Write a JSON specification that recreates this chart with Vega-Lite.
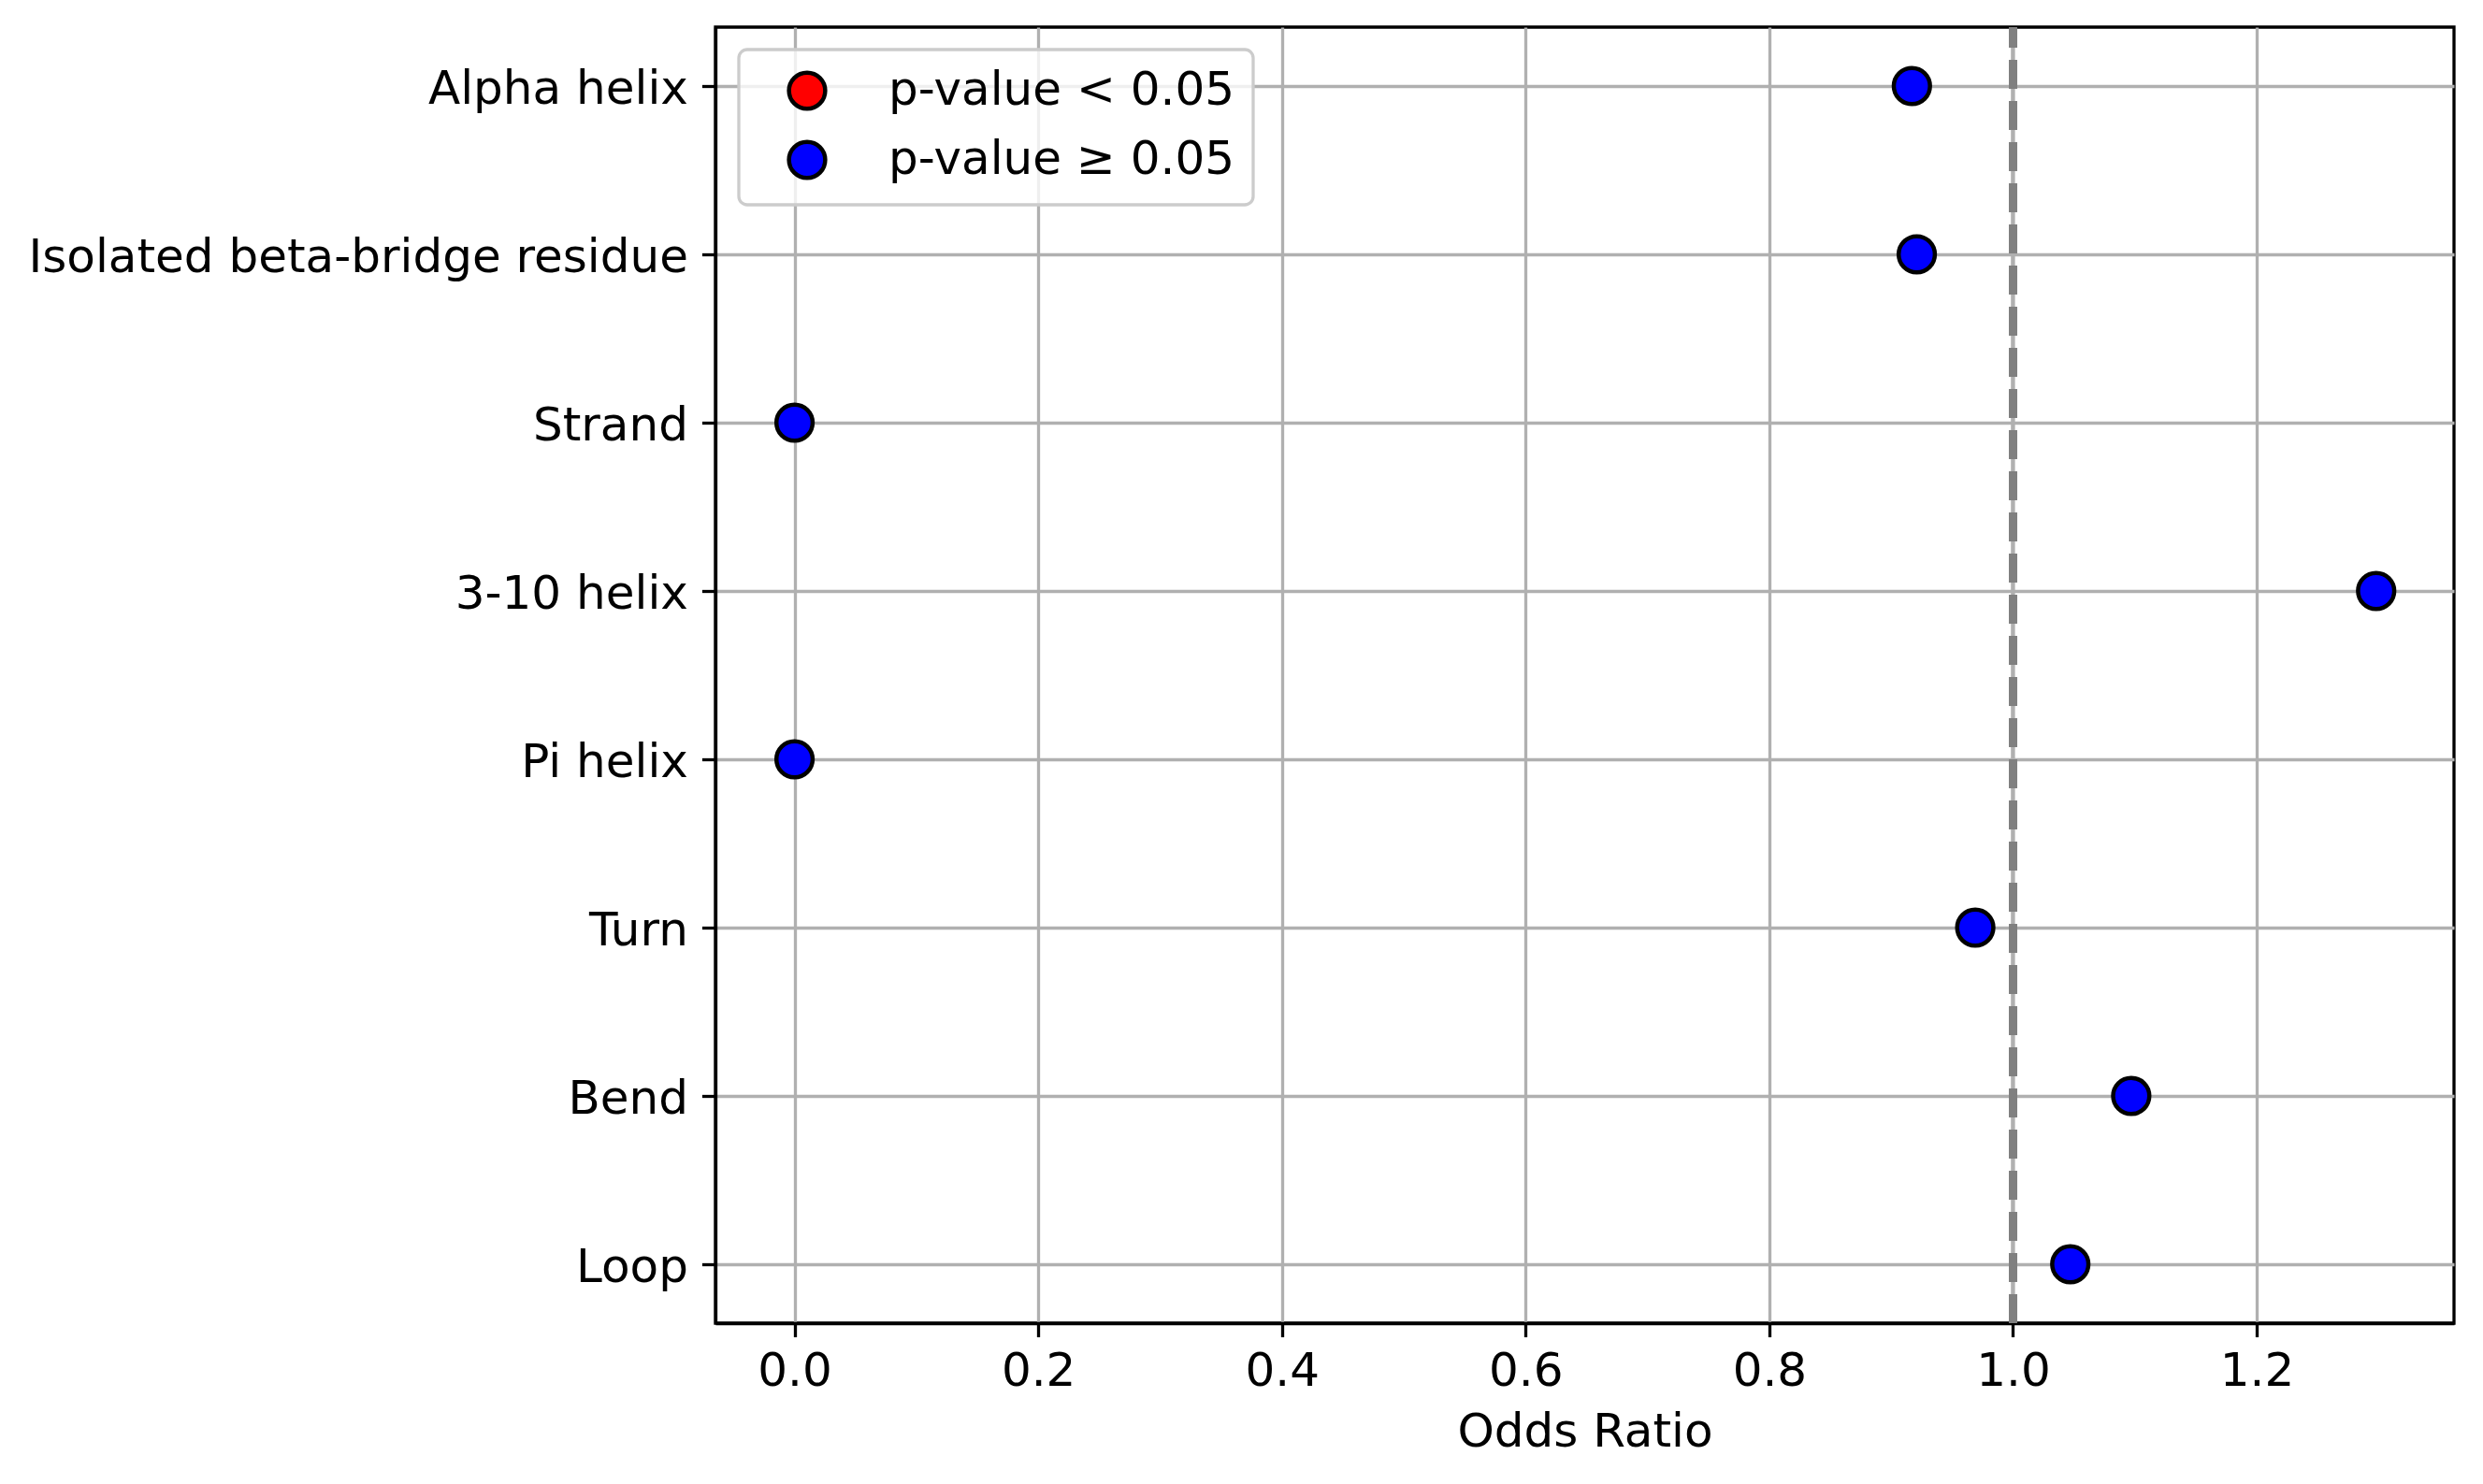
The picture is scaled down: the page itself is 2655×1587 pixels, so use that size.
{
  "$schema": "https://vega.github.io/schema/vega-lite/v6.json",
  "width": 1859,
  "height": 1386,
  "autosize": "none",
  "padding": {"left": 765, "top": 29, "right": 31, "bottom": 172},
  "background": "white",
  "config": {
    "font": "DejaVu Sans",
    "view": {"stroke": "black", "strokeWidth": 3.3},
    "axis": {
      "labelFont": "DejaVu Sans",
      "labelFontSize": 50,
      "labelColor": "black",
      "labelLimit": 0,
      "titleFont": "DejaVu Sans",
      "titleFontSize": 50,
      "titleFontWeight": "normal",
      "titleColor": "black",
      "tickColor": "black",
      "tickWidth": 3.3,
      "tickSize": 14.6,
      "domainColor": "black",
      "domainWidth": 3.3,
      "grid": true,
      "gridColor": "#b0b0b0",
      "gridWidth": 3.3,
      "gridOpacity": 1,
      "zindex": 1
    },
    "legend": {
      "orient": "none",
      "legendX": 25,
      "legendY": 24,
      "fillColor": "rgba(255,255,255,0.8)",
      "strokeColor": "#cccccc",
      "strokeWidth": 3.3,
      "cornerRadius": 9,
      "padding": 19,
      "labelFont": "DejaVu Sans",
      "labelFontSize": 50,
      "labelColor": "black",
      "labelLimit": 0,
      "labelOffset": 62,
      "symbolOffset": 29,
      "symbolType": "circle",
      "symbolSize": 1500,
      "symbolStrokeColor": "black",
      "symbolStrokeWidth": 4.5,
      "symbolOpacity": 1,
      "rowPadding": 16
    }
  },
  "data": {
    "values": [
      {"structure": "Alpha helix", "odds_ratio": 0.917, "significance": "p-value ≥ 0.05"},
      {"structure": "Isolated beta-bridge residue", "odds_ratio": 0.921, "significance": "p-value ≥ 0.05"},
      {"structure": "Strand", "odds_ratio": 0.0, "significance": "p-value ≥ 0.05"},
      {"structure": "3-10 helix", "odds_ratio": 1.298, "significance": "p-value ≥ 0.05"},
      {"structure": "Pi helix", "odds_ratio": 0.0, "significance": "p-value ≥ 0.05"},
      {"structure": "Turn", "odds_ratio": 0.969, "significance": "p-value ≥ 0.05"},
      {"structure": "Bend", "odds_ratio": 1.097, "significance": "p-value ≥ 0.05"},
      {"structure": "Loop", "odds_ratio": 1.047, "significance": "p-value ≥ 0.05"}
    ]
  },
  "encoding": {
    "x": {
      "field": "odds_ratio",
      "type": "quantitative",
      "title": "Odds Ratio",
      "scale": {"domain": [-0.0649, 1.3619], "nice": false, "zero": false},
      "axis": {
        "values": [0, 0.2, 0.4, 0.6, 0.8, 1.0, 1.2],
        "format": ".1f",
        "labelPadding": 12,
        "titlePadding": 15,
        "gridColor": {"condition": {"test": "datum.value == 1", "value": "transparent"}, "value": "#b0b0b0"}
      }
    },
    "y": {
      "field": "structure",
      "type": "nominal",
      "title": null,
      "scale": {
        "type": "point",
        "padding": 0.35,
        "domain": ["Alpha helix", "Isolated beta-bridge residue", "Strand", "3-10 helix", "Pi helix", "Turn", "Bend", "Loop"]
      },
      "axis": {"labelPadding": 15, "labelOffset": 3, "grid": true}
    }
  },
  "layer": [
    {
      "mark": {"type": "circle", "size": 1500, "stroke": "black", "strokeWidth": 4.5, "opacity": 1},
      "encoding": {
        "color": {
          "field": "significance",
          "type": "nominal",
          "title": null,
          "scale": {"domain": ["p-value < 0.05", "p-value ≥ 0.05"], "range": ["#ff0000", "#0000ff"]}
        }
      }
    },
    {
      "mark": {"type": "rule", "color": "#b0b0b0", "strokeWidth": 3.3},
      "encoding": {"x": {"datum": 1}, "y": null}
    },
    {
      "mark": {"type": "rule", "color": "#808080", "strokeWidth": 8.3, "strokeDash": [31, 13], "strokeDashOffset": 9},
      "encoding": {"x": {"datum": 1}, "y": null}
    }
  ]
}
